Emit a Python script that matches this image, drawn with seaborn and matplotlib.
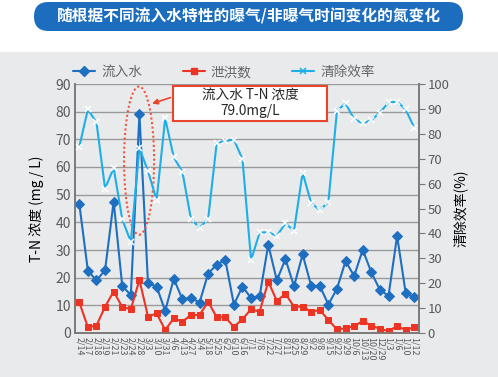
import numpy as np
import pandas as pd
import seaborn as sns
import matplotlib.pyplot as plt
from matplotlib.patches import FancyBboxPatch, Rectangle, Ellipse
from matplotlib.lines import Line2D

# sampling dates (x tick labels)
dates = ['2/14', '2/17', '2/18', '2/19', '2/21', '2/23', '2/24', '2/28', '3/3', '3/10',
         '3/31', '4/6', '4/13', '4/27', '5/4', '5/18', '5/25', '6/2', '6/10', '6/16',
         '7/1', '7/8', '7/22', '7/27', '8/11', '8/25', '8/29', '9/2', '9/8', '9/15',
         '9/22', '9/29', '10/6', '10/13', '10/20', '12/29', '1/3', '1/6', '1/10', '1/12']

# T-N of inflow water (mg/L)
inflow = [46.7, 22.5, 19.0, 22.7, 47.5, 17.0, 13.7, 79.0, 18.0, 16.8,
          8.0, 19.6, 12.2, 12.7, 11.0, 21.5, 24.7, 26.4, 10.3, 16.8,
          12.6, 13.4, 31.9, 19.0, 26.7, 16.9, 28.4, 17.0, 17.0, 10.3,
          16.0, 26.0, 20.6, 30.1, 21.9, 15.6, 13.4, 35.1, 14.5, 13.0]

# T-N of discharge (mg/L)
discharge = [11.1, 2.1, 2.7, 9.5, 15.0, 9.4, 8.6, 19.2, 5.9, 7.1,
             1.1, 5.3, 4.1, 6.5, 6.5, 11.3, 5.7, 5.7, 2.2, 5.0,
             8.6, 7.7, 18.6, 11.6, 14.2, 9.5, 9.5, 7.7, 8.3, 4.7,
             1.3, 1.7, 2.5, 4.3, 2.7, 1.5, 0.7, 2.5, 1.1, 2.1]

# removal efficiency (%)
removal = [74.8, 89.8, 84.6, 58.0, 66.3, 45.7, 36.6, 74.3, 65.0, 53.4,
           86.2, 70.5, 64.8, 45.8, 42.3, 45.8, 76.4, 77.1, 77.7, 69.8,
           29.3, 40.4, 40.4, 39.1, 44.0, 41.1, 64.4, 52.1, 49.4, 52.5,
           89.3, 92.2, 85.9, 84.2, 85.5, 88.5, 92.6, 92.9, 89.8, 82.4]

df = pd.DataFrame({'pos': np.arange(len(dates)), 'date': dates,
                   'inflow': inflow, 'discharge': discharge, 'removal': removal})

sns.set_style('white')
plt.rcParams['font.family'] = ['Noto Sans CJK SC', 'DejaVu Sans']

BLUE = '#1f6fc1'
RED = '#ec3424'
LBLUE = '#1eaee8'
TICK = '#5a5a5a'
PANEL = '#e9eaec'

fig = plt.figure(figsize=(4.98, 3.77), dpi=100)
fig.patch.set_facecolor('white')

# gray panel behind the chart
fig.add_artist(Rectangle((0, 0), 1, 1 - 52 / 377, transform=fig.transFigure,
                         facecolor=PANEL, edgecolor='none', zorder=-10))

# title banner
fig.add_artist(FancyBboxPatch((0.34, 3.46), 4.29, 0.29,
                              boxstyle='round,pad=0,rounding_size=0.145',
                              transform=fig.dpi_scale_trans,
                              facecolor='#1c6dbd', edgecolor='none'))
fig.text(0.5, 1 - 16 / 377, '随根据不同流入水特性的曝气/非曝气时间变化的氮变化',
         color='white', fontsize=11.3, fontweight='bold', ha='center', va='center')

ax = fig.add_axes([75 / 498, 1 - 333 / 377, 344 / 498, 249 / 377])
ax.set_facecolor(PANEL)
ax2 = ax.twinx()

sns.lineplot(data=df, x='pos', y='inflow', ax=ax, color=BLUE, marker='D',
             markersize=5.3, markeredgecolor=BLUE, linewidth=1.5, zorder=4)
sns.lineplot(data=df, x='pos', y='discharge', ax=ax, color=RED, marker='s',
             markersize=5, markeredgecolor=RED, linewidth=1.5, zorder=4)
sns.lineplot(data=df, x='pos', y='removal', ax=ax2, color=LBLUE, marker='x',
             markersize=4.5, markeredgewidth=1.1, linewidth=1.5, zorder=3)

ax.set_xlim(-0.5, 39.55)
ax.set_ylim(0, 90)
ax2.set_ylim(0, 100)
ax.set_yticks(np.arange(0, 91, 10))
ax2.set_yticks(np.arange(0, 101, 10))
ax.set_xticks(df['pos'])
ax.set_xticklabels(df['date'], rotation=-90, fontsize=6.4, color=TICK)
ax.tick_params(axis='x', length=0, pad=3)
ax.tick_params(axis='y', length=0, labelsize=10, labelcolor=TICK, pad=3)
ax2.tick_params(axis='y', length=4, width=0.8, color='#777777', labelsize=9.5,
                labelcolor=TICK, pad=2)

ax.grid(axis='y', color='#9a9a9a', linewidth=1.0)
ax.set_axisbelow(True)
ax2.set_zorder(ax.get_zorder() + 1)
ax2.patch.set_visible(False)

for a in (ax, ax2):
    a.spines['top'].set_visible(False)
    for s in ('left', 'right', 'bottom'):
        a.spines[s].set_color('#7a7a7a')
        a.spines[s].set_linewidth(1.2)

ax.set_xlabel('')
ax.set_ylabel('T-N 浓度 (mg / L)', fontsize=10, color='black', labelpad=8)
ax2.set_ylabel('清除效率(%)', fontsize=10, color='black', rotation=90, labelpad=3)

# highlight of the peak inflow value
ax.add_patch(Ellipse((6.96, 62.3), 3.5, 53.6, fill=False, edgecolor='#f0553a',
                     linestyle=(0, (1, 1.2)), linewidth=1.5, zorder=5))
ax.add_patch(Rectangle((10.92, 76.6), 17.95, 12.6, facecolor='white',
                       edgecolor='#e8452c', linewidth=1.5, zorder=6))
ax.text(19.9, 82.9, '流入水 T-N 浓度\n79.0mg/L', ha='center', va='center',
        fontsize=9.8, linespacing=1.1, zorder=7)
ax.annotate('', xy=(8.16, 82.6), xytext=(10.92, 85.4),
            arrowprops=dict(arrowstyle='-|>', color='#e8452c', lw=1.2,
                            mutation_scale=8), zorder=7)

handles = [Line2D([], [], color=BLUE, marker='D', markersize=5.3, linewidth=1.5),
           Line2D([], [], color=RED, marker='s', markersize=5, linewidth=1.5),
           Line2D([], [], color=LBLUE, marker='x', markersize=4.5,
                  markeredgewidth=1.1, linewidth=1.5)]
fig.legend(handles, ['流入水', '泄洪数', '清除效率'], ncol=3, loc='center',
           bbox_to_anchor=(224 / 498, 1 - 72 / 377), frameon=False,
           fontsize=9.8, labelcolor='#666666', handlelength=1.6,
           handletextpad=0.45, columnspacing=3.0)

fig.savefig('out.png', dpi=100)
